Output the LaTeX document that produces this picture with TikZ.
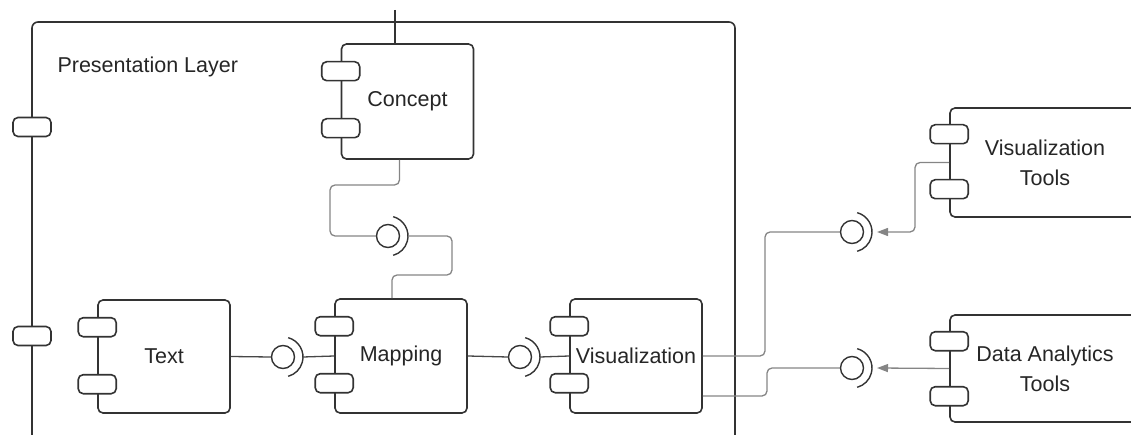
\documentclass[tikz,border=0pt]{standalone}
\usepackage{fontspec}
\setmainfont{Liberation Sans}
\usetikzlibrary{arrows.meta,positioning}
\definecolor{boxline}{HTML}{333333}
\definecolor{wiregray}{HTML}{858585}
\definecolor{labelgray}{HTML}{262626}
\tikzset{
	comp/.style={draw=boxline, fill=white, line width=1.6pt, rounded corners=5pt, minimum width=132pt, minimum height=114pt, inner sep=0pt, align=center, text=labelgray, font=\fontsize{21.5}{30}\selectfont},
	port/.style={draw=boxline, fill=white, line width=1.6pt, rounded corners=5pt, minimum width=38pt, minimum height=19pt, inner sep=0pt},
	ball/.style={draw=boxline, fill=white, line width=1.4pt, circle, minimum size=23pt, inner sep=0pt},
	sock/.style={draw=boxline, line width=1.4pt},
	wirel/.style={draw=wiregray, line width=1.3pt, rounded corners=5pt},
	darkwire/.style={draw=boxline!90, line width=1.3pt},
}

\begin{document}
\begin{tikzpicture}[x=1pt,y=-1pt]
	\useasboundingbox (0,0) rectangle (1131,435);
	% presentation layer frame
	\draw[boxline, line width=1.6pt, rounded corners=6pt] (32,450) -- (32,22) -- (735,22) -- (735,450);
	\node[port] (pl1) at (32,127) {};
	\node[port] (pl2) at (32,336) {};
	\node[anchor=west, text=labelgray, font=\fontsize{21.5}{26}\selectfont] (layer) at (54,67) {Presentation Layer};

	\node[comp, minimum height=115pt] (concept) at (407.5,101.5) {Concept};
	\node[comp, minimum height=113pt] (txt) at (164,356.5) {Text};
	\node[comp] (mapping) at (401,356) {Mapping};
	\node[comp] (vis) at (636,356) {Visualization};
	\node[comp, minimum width=190pt, minimum height=109pt] (vtools) at (1045,162.5) {Visualization\\Tools};
	\node[comp, minimum width=190pt, minimum height=107pt] (dtools) at (1045,368.5) {Data Analytics\\Tools};
	\foreach \c in {concept,txt,mapping,vis} {
		\node[port] at ([yshift=-28pt]\c.north west) {};
		\node[port] at ([yshift=-85pt]\c.north west) {};
	}
	\foreach \c in {vtools,dtools} {
		\node[port] at ([yshift=-27pt]\c.north west) {};
		\node[port] at ([yshift=-82pt]\c.north west) {};
	}

	\coordinate (top) at (395,10);
	\draw[boxline, line width=1.3pt] (top) -- (top |- concept.north);

	% interfaces
	\node[ball] (l0) at (388,236) {};
	\node[ball] (l1) at (283,357) {};
	\node[ball] (l2) at (520,357) {};
	\node[ball] (l3) at (852,232) {};
	\node[ball] (l4) at (852,368) {};
	\foreach \l in {l0,l1,l2,l3,l4} {
		\draw[sock] ([shift={(75:20pt)}]\l.center) arc[start angle=75, end angle=-75, radius=20pt];
		\coordinate (\l s) at ([xshift=20pt]\l.center);
	}

	\draw[wirel] ([xshift=-8pt]concept.south) |- (330,185) |- (l0.west);
	\draw[wirel] (l0s) -| (452,275) -| ([xshift=-9pt]mapping.north);
	\draw[darkwire] (txt.east) -- (l1.west);
	\draw[darkwire] (l1s) -- (mapping.west);
	\draw[darkwire] (mapping.east) -- (l2.west);
	\draw[darkwire] (l2s) -- (vis.west);
	\draw[wirel] (vis.east) -- (765,356) |- (l3.west);
	\draw[wirel] ([yshift=-40pt]vis.east) -- (767,396) |- (l4.west);
	\draw[wirel, -{Triangle[length=11pt,width=8pt]}] (vtools.west) -| ([xshift=43pt]l3s) -- ([xshift=5pt]l3s);
	\draw[wirel, -{Triangle[length=11pt,width=8pt]}] (dtools.west) -- ([xshift=5pt]l4s);
\end{tikzpicture}
\end{document}
